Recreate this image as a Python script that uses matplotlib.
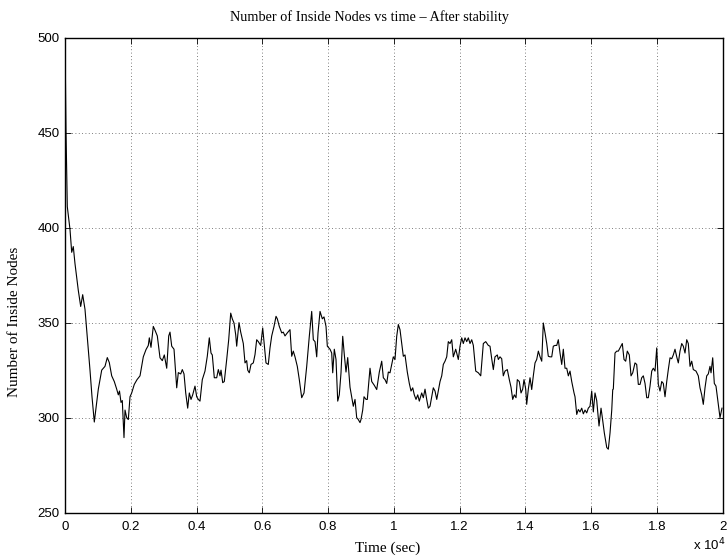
import matplotlib
matplotlib.use("Agg")
import matplotlib.pyplot as plt
import numpy as np

time_sec = [0, 30, 70, 152, 204, 252, 304, 404, 477, 538, 608, 660, 739, 760, 821, 891, 943, 1013, 1116,
            1216, 1286, 1347, 1420, 1499, 1572, 1621, 1657, 1703, 1742, 1794, 1825, 1876, 1925, 1977, 2028,
            2107, 2190, 2281, 2381, 2463, 2533, 2564, 2615, 2685, 2737, 2807, 2889, 2959, 3020, 3093, 3154,
            3193, 3245, 3315, 3397, 3446, 3519, 3567, 3619, 3671, 3731, 3780, 3832, 3883, 3953, 4005, 4054,
            4105, 4175, 4257, 4327, 4388, 4440, 4479, 4540, 4613, 4662, 4714, 4744, 4796, 4844, 4917, 4978,
            5039, 5087, 5139, 5191, 5221, 5291, 5343, 5422, 5474, 5525, 5556, 5604, 5656, 5726, 5778, 5829,
            5878, 5951, 6012, 6073, 6112, 6182, 6234, 6286, 6356, 6417, 6456, 6517, 6590, 6638, 6690, 6760,
            6842, 6894, 6942, 6994, 7064, 7125, 7198, 7268, 7350, 7429, 7502, 7551, 7603, 7654, 7694, 7755,
            7825, 7876, 7937, 7977, 8059, 8110, 8141, 8189, 8241, 8293, 8341, 8393, 8445, 8494, 8545, 8597,
            8667, 8718, 8767, 8819, 8870, 8919, 8971, 9001, 9053, 9093, 9154, 9193, 9275, 9327, 9406, 9479,
            9558, 9631, 9680, 9731, 9783, 9832, 9883, 9935, 9983, 10035, 10087, 10136, 10187, 10239, 10288,
            10339, 10409, 10470, 10522, 10574, 10622, 10674, 10726, 10774, 10847, 10896, 10948, 10999, 11048,
            11100, 11152, 11200, 11252, 11304, 11352, 11404, 11456, 11504, 11556, 11608, 11656, 11708, 11760,
            11808, 11881, 11912, 11960, 12012, 12064, 12112, 12164, 12216, 12265, 12316, 12368, 12417, 12490,
            12569, 12642, 12721, 12794, 12873, 12924, 12976, 13025, 13076, 13146, 13177, 13228, 13280, 13328,
            13380, 13450, 13511, 13563, 13614, 13663, 13715, 13754, 13815, 13867, 13918, 13958, 14010, 14040,
            14089, 14141, 14192, 14241, 14293, 14344, 14394, 14446, 14497, 14545, 14597, 14649, 14697, 14749,
            14801, 14849, 14901, 14953, 15001, 15053, 15105, 15153, 15205, 15257, 15306, 15357, 15409, 15479,
            15509, 15561, 15610, 15661, 15713, 15762, 15813, 15865, 15913, 15965, 16017, 16066, 16117, 16169,
            16239, 16300, 16340, 16400, 16474, 16522, 16574, 16626, 16656, 16674, 16725, 16777, 16826, 16877,
            16947, 16999, 17050, 17099, 17160, 17212, 17264, 17333, 17385, 17434, 17486, 17537, 17586, 17638,
            17690, 17738, 17790, 17842, 17890, 17942, 17994, 18042, 18094, 18146, 18194, 18246, 18298, 18346,
            18398, 18450, 18498, 18550, 18602, 18650, 18702, 18754, 18802, 18854, 18906, 18954, 19006, 19058,
            19106, 19188, 19258, 19310, 19362, 19410, 19462, 19514, 19562, 19614, 19645, 19696, 19745, 19796,
            19848, 19888, 19918, 19978]

inside_nodes = [500, 451, 411, 399, 387, 390, 381, 367, 358.5, 364.7, 357, 346, 329, 325, 311, 297.7, 305, 315, 325,
                327, 331.6, 329, 322, 319, 315, 312, 314, 308, 309, 289.5, 304, 300, 299, 311, 313,
                317.5, 320, 322, 332, 335.8, 338, 342, 337, 348, 346, 343, 331.5, 330, 333, 326, 343,
                345, 337.6, 336, 315.7, 323.7, 323, 325.3, 323, 313, 305, 313, 309.6, 312, 316.6, 311, 309.6,
                308.7, 320, 324.5, 332.3, 342, 334, 333, 321, 321, 325.3, 322, 325, 318.4, 319, 330.6, 341,
                355, 352, 349.8, 343.6, 337.6, 350, 345, 339, 328.8, 330, 325, 323.6, 328, 328.8, 333.2, 341,
                340, 338, 347.2, 336, 328.8, 328, 336.7, 343, 348, 353.3, 352, 348, 344.6, 345, 343, 344.6,
                346.3, 332.3, 335, 332, 327, 320, 310.5, 313, 327, 342.8, 355.9, 341, 340, 332, 344.6, 355.9,
                352, 353, 348, 337.6, 336, 334, 323.6, 336, 330.6, 308.7, 312, 323.6, 342.8, 333, 324, 331.6,
                316, 311, 306, 309.6, 300, 299, 297.4, 299, 304, 311, 309.6, 309.6, 326, 319, 317, 314.8,
                324, 329.7, 321, 320, 318, 324, 323.6, 328, 332, 330.6, 342.8, 349, 346.3, 339, 332.3,
                333, 324, 318, 314, 315.7, 312, 309.6, 312, 308.7, 313, 310.5, 315, 309.6, 305,
                306, 311, 315.7, 314, 309.6, 314, 319, 322, 328, 329.7, 332, 340, 339, 341,
                332, 336, 334, 330.6, 337.6, 342, 339, 342, 340, 342, 339, 341, 338, 324.5,
                323.6, 322, 339, 340, 338, 337.6, 331, 325.3, 332, 333, 330.6, 332, 331, 322,
                324.5, 325.3, 320, 316, 309.6, 312, 310.5, 320, 319, 313, 315, 320, 315, 307,
                315, 321, 314.8, 322, 328.8, 330.6, 335, 332, 329.7, 349.8, 344.6, 339, 332.3, 332,
                332, 337.6, 338, 338, 341, 334, 328, 336, 326, 326, 322, 324.5, 319, 313,
                311, 301.7, 304.3, 303, 305, 302, 304, 302.5, 305, 306, 314, 303, 313, 309,
                295.6, 305, 300, 292, 284.3, 283.4, 292, 304, 314.8, 315, 334, 335, 335, 336.7,
                339, 330.6, 329.7, 335, 333, 322, 323.6, 328.8, 328, 317.5, 317.5, 321, 322, 318,
                310.5, 310.5, 316.6, 324.5, 326, 324.5, 336.7, 317.5, 314, 319, 318, 311, 319, 325.3,
                331.5, 331, 333, 336, 332, 328.8, 335, 339, 337.6, 334, 341, 339, 327, 329.7,
                325.3, 324.5, 322, 315.7, 312, 307, 315.7, 322, 323, 327, 323.6, 331.5, 318, 316.6,
                309.6, 304.3, 300, 305]

x_ticks = [0, 2000, 4000, 6000, 8000, 10000, 12000, 14000, 16000, 18000, 20000]
x_tick_labels = ["0", "0.2", "0.4", "0.6", "0.8", "1", "1.2", "1.4", "1.6", "1.8", "2"]
y_ticks = [250, 300, 350, 400, 450, 500]

serif = ["Liberation Serif", "DejaVu Serif"]
sans = ["Liberation Sans", "DejaVu Sans"]

W, H = 728, 559
fig = plt.figure(figsize=(W / 100, H / 100), dpi=100)
ax = fig.add_axes([65 / W, 1 - 512.7 / H, 657.7 / W, 475.2 / H])

ax.plot(time_sec, inside_nodes, color="black", linewidth=0.8)

ax.set_xlim(0, 20000)
ax.set_ylim(250, 500)
ax.set_xticks(x_ticks)
ax.set_xticklabels(x_tick_labels)
ax.set_yticks(y_ticks)
for lab in ax.get_xticklabels() + ax.get_yticklabels():
    lab.set_family(sans)
    lab.set_fontsize(9.5)

ax.tick_params(direction="in", top=True, right=True, length=4, width=0.6)
ax.tick_params(axis="x", pad=6)
ax.tick_params(axis="y", pad=4)
ax.grid(True, linestyle=(0, (1, 3)), color="#555555", linewidth=0.6)
for sp in ax.spines.values():
    sp.set_linewidth(1.0)

# texts (MATLAB-style placement)
fig.text(230 / W, 1 - 17 / H, "Number of Inside Nodes vs time \u2013 After stability",
         family=serif, fontsize=10.3, ha="left", va="center")
fig.text(388 / W, 1 - 548 / H, "Time (sec)", family=serif, fontsize=11,
         ha="center", va="center")
fig.text(15 / W, 1 - 322 / H, "Number of Inside Nodes", family=serif, fontsize=11,
         rotation=90, ha="center", va="center")
fig.text(726 / W, 1 - 545 / H, r"x 10$^{4}$", family=sans, fontsize=9.5,
         ha="right", va="center")

fig.savefig("out.png", dpi=100)
